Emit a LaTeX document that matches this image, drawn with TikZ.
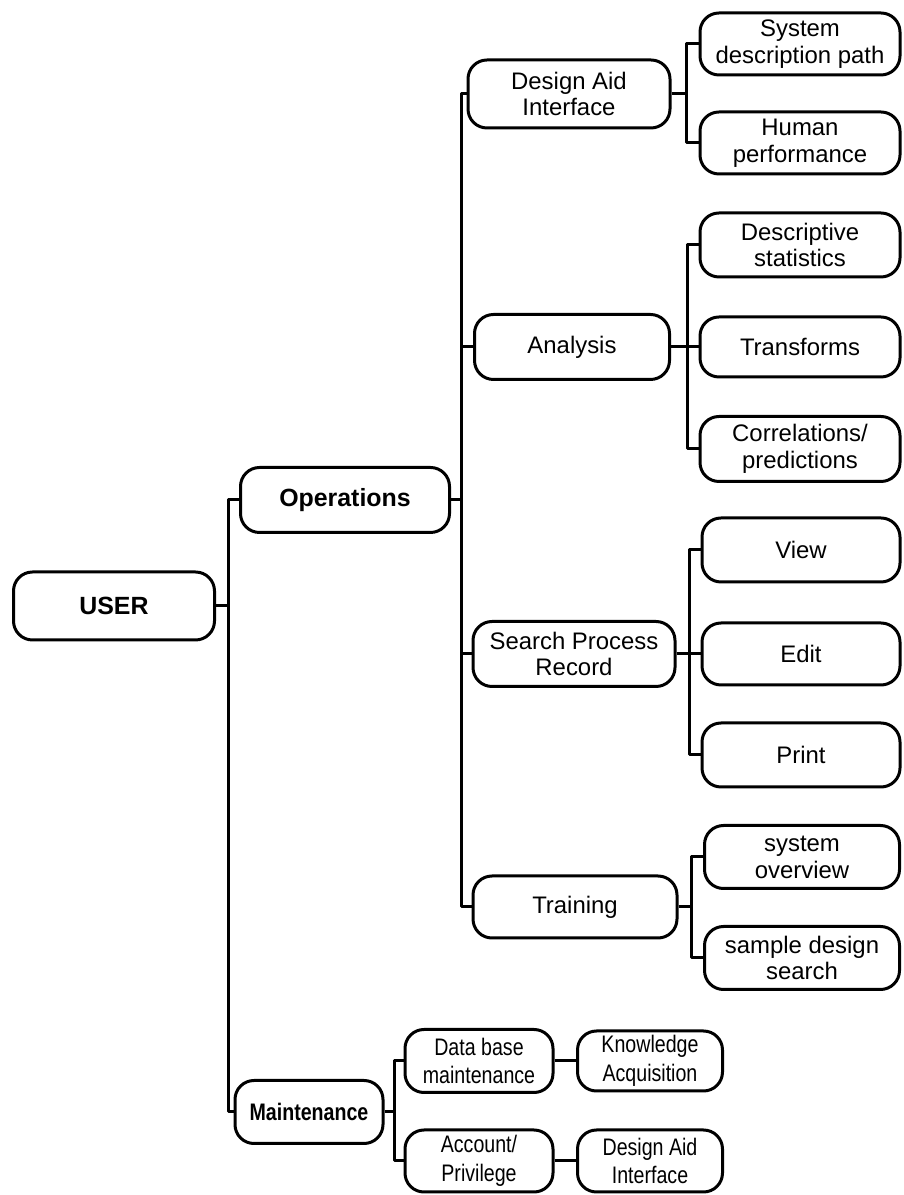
\documentclass[tikz,border=0pt]{standalone}
\usepackage{fontspec}
\setmainfont{Liberation Sans}
\newfontfamily\condfont[FakeStretch=0.82]{Liberation Sans}
\usetikzlibrary{positioning}

\begin{document}
\begin{tikzpicture}[line join=round,
  box/.style={draw, line width=3bp, rounded corners=19bp, align=center, inner sep=0pt,
    font=\fontsize{24}{27}\selectfont},
  headbox/.style={box, font=\fontsize{25}{28}\selectfont\bfseries},
  midbox/.style={box, minimum width=202bp, minimum height=65bp},
  leafbox/.style={box, minimum width=200bp, minimum height=62bp},
  lowbox/.style={box, font=\condfont\fontsize{24}{29}\selectfont, minimum height=62bp},
  link/.style={line width=3bp}]
%%
\useasboundingbox (0bp,0bp) rectangle (904bp,1195bp);
\node (user) at (114bp,589bp) [headbox,minimum width=201bp,minimum height=68bp] {USER};
  \node (ops) at (345bp,695bp) [headbox,minimum width=209bp,minimum height=65bp] {Operations};
  \node (maint) at (309bp,83bp) [headbox,font=\condfont\fontsize{24}{28}\selectfont\bfseries,minimum width=148bp,minimum height=63bp] {Maintenance};
  \node (dai) at (569bp,1101bp) [midbox,minimum height=68bp] {Design Aid\\Interface};
  \node (analysis) at (572bp,848bp) [midbox,minimum width=195bp] {Analysis};
  \node (spr) at (574bp,541bp) [midbox] {Search Process\\Record};
  \node (training) at (575bp,288bp) [midbox,minimum width=204bp,minimum height=62bp] {Training};
  \node (sdp) at (800bp,1151bp) [leafbox] {System\\description path};
  \node (hp) at (800bp,1052bp) [leafbox] {Human\\performance};
  \node (ds) at (800bp,950bp) [leafbox,minimum height=64bp] {Descriptive\\statistics};
  \node (trans) at (800bp,848bp) [leafbox,minimum height=60bp] {Transforms};
  \node (corr) at (800bp,746bp) [leafbox,minimum height=65bp] {Correlations/\\predictions};
  \node (view) at (801bp,645bp) [leafbox,minimum width=198bp,minimum height=64bp] {View};
  \node (edit) at (801bp,541bp) [leafbox,minimum width=198bp] {Edit};
  \node (print) at (801bp,440bp) [leafbox,minimum width=198bp,minimum height=64bp] {Print};
  \node (sysov) at (802bp,338bp) [leafbox,minimum width=195bp,minimum height=63bp] {system\\overview};
  \node (sds) at (802bp,237bp) [leafbox,minimum width=195bp,minimum height=63bp] {sample design\\search};
  \node (dbm) at (479bp,134bp) [lowbox,minimum width=148bp,minimum height=63bp] {Data base\\maintenance};
  \node (acc) at (479bp,34bp) [lowbox,minimum width=148bp] {Account/\\Privilege};
  \node (ka) at (650bp,134bp) [lowbox,minimum width=145bp,minimum height=60bp] {Knowledge\\Acquisition};
  \node (dai2) at (650bp,34bp) [lowbox,minimum width=145bp] {Design Aid\\Interface};
  \draw [link] (user.east) -- ++(12bp,0) |- (ops.west);
  \draw [link] (user.east) -- ++(12bp,0) |- (maint.west);
  \draw [link] (ops.east) -- ++(10bp,0) |- (dai.west);
  \draw [link] (ops.east) -- ++(10bp,0) |- (analysis.west);
  \draw [link] (ops.east) -- ++(10bp,0) |- (spr.west);
  \draw [link] (ops.east) -- ++(10bp,0) |- (training.west);
  \draw [link] (dai.east) -- ++(15bp,0) |- (sdp.west);
  \draw [link] (dai.east) -- ++(15bp,0) |- (hp.west);
  \draw [link] (analysis.east) -- ++(16bp,0) |- (ds.west);
  \draw [link] (analysis.east) -- ++(16bp,0) |- (trans.west);
  \draw [link] (analysis.east) -- ++(16bp,0) |- (corr.west);
  \draw [link] (spr.east) -- ++(13bp,0) |- (view.west);
  \draw [link] (spr.east) -- ++(13bp,0) |- (edit.west);
  \draw [link] (spr.east) -- ++(13bp,0) |- (print.west);
  \draw [link] (training.east) -- ++(13bp,0) |- (sysov.west);
  \draw [link] (training.east) -- ++(13bp,0) |- (sds.west);
  \draw [link] (maint.east) -- ++(10bp,0) |- (dbm.west);
  \draw [link] (maint.east) -- ++(10bp,0) |- (acc.west);
  \draw [link] (dbm.east) -- (ka.west);
  \draw [link] (acc.east) -- (dai2.west);
%
\end{tikzpicture}
\end{document}
